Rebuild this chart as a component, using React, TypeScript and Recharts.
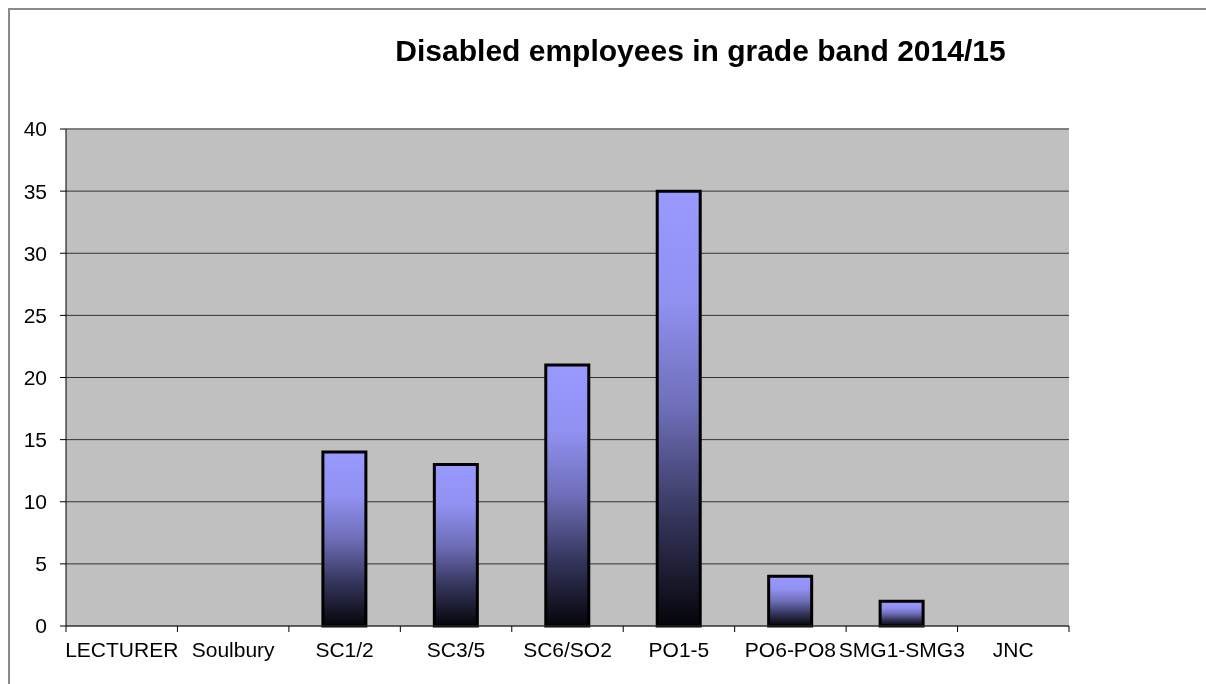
import { BarChart, Bar, XAxis, YAxis, CartesianGrid, ReferenceLine } from "recharts";

const categories = ["LECTURER", "Soulbury", "SC1/2", "SC3/5", "SC6/SO2", "PO1-5", "PO6-PO8", "SMG1-SMG3", "JNC"];
const employees = [0, 0, 14, 13, 21, 35, 4, 2, 0];
const yTicks = [0, 5, 10, 15, 20, 25, 30, 35, 40];

const data = categories.map((name, i) => ({ name, value: employees[i] }));

const W = 1198;
const H = 676;
const M = { top: 121, right: 137, bottom: 0, left: 0 };
const Y_W = 58;
const X_H = 58;
const band = (W - M.left - M.right - Y_W) / categories.length;
const FONT = "'Liberation Sans', Arial, sans-serif";

function CatTick(props: any) {
  const { x, y, payload, index } = props;
  const axisY = y - 6 - 2;
  return (
    <g>
      <line x1={x - band / 2} x2={x - band / 2} y1={axisY} y2={axisY + 6} stroke="#000" />
      {index === categories.length - 1 && (
        <line x1={x + band / 2} x2={x + band / 2} y1={axisY} y2={axisY + 6} stroke="#000" />
      )}
      <text x={x} y={axisY + 31} textAnchor="middle" fontSize={21} fontFamily={FONT} fill="#000">
        {payload.value}
      </text>
    </g>
  );
}

export default function App() {
  // fixed so the frame can run off the page edges without scrollbars
  return (
    <div
      style={{
        position: "fixed",
        left: 8,
        top: 8,
        width: W,
        height: H,
        overflow: "hidden",
        fontFamily: FONT,
      }}
    >
      <div
        style={{
          position: "absolute",
          left: 0,
          top: 0,
          width: W + 20,
          height: H + 20,
          borderTop: "2px solid #8a8a8a",
          borderLeft: "2px solid #8a8a8a",
          boxSizing: "border-box",
        }}
      />
      <div
        style={{
          position: "absolute",
          left: 0,
          top: 28,
          width: 1385,
          textAlign: "center",
          fontSize: 30,
          lineHeight: "30px",
          fontWeight: "bold",
          color: "#000",
        }}
      >
        Disabled employees in grade band 2014/15
      </div>
      <div style={{ position: "absolute", left: 0, top: 0 }}>
        <BarChart width={W} height={H} data={data} margin={M}>
          <defs>
            <linearGradient id="barFill" x1="0" y1="0" x2="0" y2="1">
              <stop offset="0%" stopColor="#9999ff" />
              <stop offset="25%" stopColor="#9191f2" />
              <stop offset="50%" stopColor="#6e6eb8" />
              <stop offset="75%" stopColor="#35355c" />
              <stop offset="100%" stopColor="#05050a" />
            </linearGradient>
          </defs>
          <CartesianGrid vertical={false} fill="#c0c0c0" stroke="#333" strokeOpacity={1} />
          <XAxis
            dataKey="name"
            height={X_H}
            interval={0}
            tickLine={false}
            tickSize={6}
            tickMargin={2}
            axisLine={{ stroke: "#333" }}
            tick={<CatTick />}
          />
          <YAxis
            width={Y_W}
            domain={[0, 40]}
            ticks={yTicks}
            interval={0}
            tickSize={6}
            tickMargin={13}
            axisLine={{ stroke: "#000" }}
            tickLine={{ stroke: "#000" }}
            tick={{ fill: "#000", fontSize: 21, fontFamily: FONT }}
          />
          <YAxis
            yAxisId="frame"
            orientation="right"
            width={0}
            domain={[0, 40]}
            tick={false}
            tickLine={false}
            axisLine={{ stroke: "#808080", strokeWidth: 2 }}
          />
          <ReferenceLine y={40} stroke="#808080" strokeWidth={2} />
          <Bar
            dataKey="value"
            fill="url(#barFill)"
            stroke="#000"
            strokeWidth={3}
            barSize={43}
            isAnimationActive={false}
          />
        </BarChart>
      </div>
    </div>
  );
}
